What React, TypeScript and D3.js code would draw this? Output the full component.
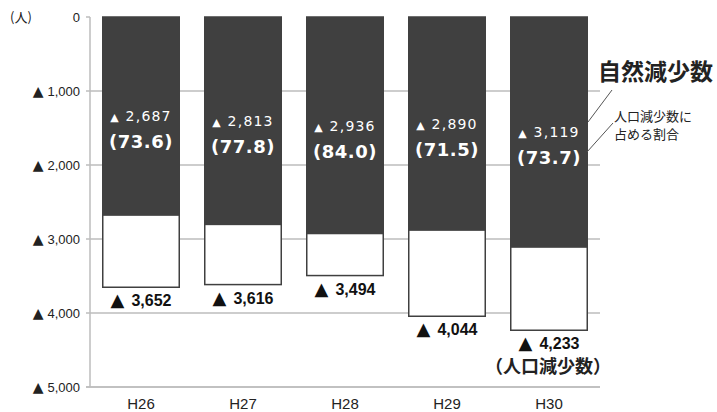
import React from "react";
import * as d3 from "d3";

const categories = ["H26", "H27", "H28", "H29", "H30"];
const naturalDecrease = [2687, 2813, 2936, 2890, 3119];
const totalDecrease = [3652, 3616, 3494, 4044, 4233];
const ratios = ["73.6", "77.8", "84.0", "71.5", "73.7"];
const yTicks = [0, 1000, 2000, 3000, 4000, 5000];

const W = 717;
const H = 412;
const M = { left: 90, right: 117, top: 17, bottom: 25 };

const fmt = d3.format(",");

export default function App() {
  const x = d3
    .scaleBand<string>()
    .domain(categories)
    .range([M.left, W - M.right])
    .paddingInner(0.25)
    .paddingOuter(0.125);
  const y = d3.scaleLinear().domain([0, 5000]).range([M.top, H - M.bottom]);
  const bw = x.bandwidth();
  const sans = "'Liberation Sans', Arial, sans-serif";
  const cjk = "'Noto Sans CJK JP', sans-serif";
  const verd = "'DejaVu Sans', Verdana, sans-serif";

  return (
    <div style={{ position: "absolute", left: 0, top: 0 }}>
      <svg width={W} height={H} style={{ display: "block", background: "#fff" }}>
        {/* gridlines */}
        {yTicks.slice(1).map((t) => (
          <line key={t} x1={M.left - 4} x2={W - M.right} y1={y(t)} y2={y(t)} stroke="#bdbdbd" strokeWidth={1.5} />
        ))}
        <line x1={M.left - 4} x2={M.left} y1={y(0)} y2={y(0)} stroke="#bdbdbd" strokeWidth={1.5} />
        <line x1={M.left} x2={M.left} y1={y(0)} y2={y(5000)} stroke="#bdbdbd" strokeWidth={1.5} />
        {/* y tick labels */}
        {yTicks.map((t) => (
          <text key={t} x={80} y={y(t) + 5} textAnchor="end" fontFamily={sans} fontSize={13} fill="#222">
            {t === 0 ? (
              "0"
            ) : (
              <>
                <tspan fontFamily={verd} fontSize={14}>▲</tspan>
                <tspan dx={4}>{fmt(t)}</tspan>
              </>
            )}
          </text>
        ))}
        <text x={10} y={y(0) + 5} fontFamily={cjk} fontSize={13} fill="#222">(人)</text>
        {/* bars */}
        {categories.map((c, i) => {
          const x0 = x(c)!;
          const cx = x0 + bw / 2;
          return (
            <g key={c}>
              <rect x={x0} y={y(0)} width={bw} height={y(totalDecrease[i]) - y(0)} fill="#fff" stroke="#404040" strokeWidth={1.5} />
              <rect x={x0} y={y(0)} width={bw} height={y(naturalDecrease[i]) - y(0)} fill="#404040" />
              <text x={cx} y={y(naturalDecrease[i] / 2) + 5} textAnchor="middle" fontFamily={verd} fontSize={14} letterSpacing={1.2} fill="#fff">
                <tspan fontSize={11}>▲</tspan>
                {" " + fmt(naturalDecrease[i])}
              </text>
              <text x={cx} y={y(naturalDecrease[i] / 2) + 32} textAnchor="middle" fontFamily={verd} fontWeight="bold" fontSize={18} letterSpacing={0.5} fill="#fff">
                {"(" + ratios[i] + ")"}
              </text>
              <text x={cx} y={y(totalDecrease[i]) + 19} textAnchor="middle" fontFamily={sans} fontWeight="bold" fontSize={16} fill="#111">
                <tspan fontFamily={verd} fontSize={18}>▲</tspan>
                <tspan dx={7}>{fmt(totalDecrease[i])}</tspan>
              </text>
              <text x={cx} y={H - 3} textAnchor="middle" fontFamily={sans} fontSize={15} fill="#222">
                {c}
              </text>
            </g>
          );
        })}
        {/* bottom axis */}
        <line x1={M.left - 4} x2={W - M.right} y1={y(5000)} y2={y(5000)} stroke="#bdbdbd" strokeWidth={1.5} />
        {/* annotations */}
        <text x={598} y={80} fontFamily={cjk} fontWeight="bold" fontSize={23} fill="#222">自然減少数</text>
        <text x={614} y={121} fontFamily={cjk} fontSize={13} fill="#222">人口減少数に</text>
        <text x={614} y={139} fontFamily={cjk} fontSize={13} fill="#222">占める割合</text>
        <line x1={588} y1={122} x2={612} y2={90} stroke="#555" strokeWidth={1} />
        <line x1={587} y1={152} x2={613} y2={123} stroke="#555" strokeWidth={1} />
        <text x={548} y={373} textAnchor="middle" fontFamily={cjk} fontWeight="bold" fontSize={18} fill="#222">（人口減少数）</text>
      </svg>
    </div>
  );
}
